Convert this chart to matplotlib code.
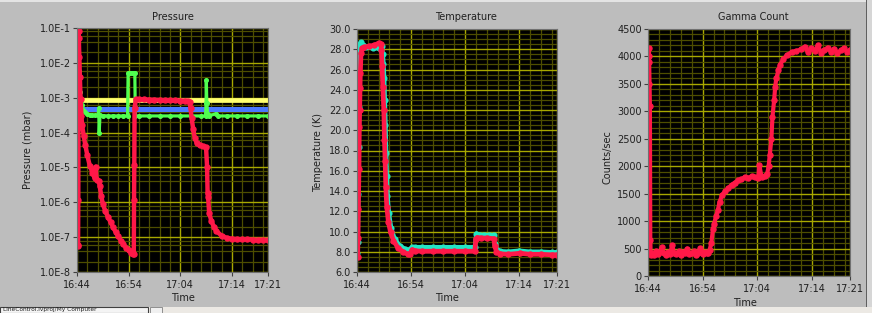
import matplotlib
matplotlib.use("Agg")
import matplotlib.pyplot as plt
from matplotlib.ticker import FixedLocator, NullFormatter
from matplotlib.patches import Rectangle

# ---------------- data (minutes after 16:44) ----------------
time_ticks = [0, 10, 20, 30, 37]
time_labels = ["16:44", "16:54", "17:04", "17:14", "17:21"]

# Pressure (mbar)
p_red_t = [0.15, 0.2, 0.25, 0.3, 0.35, 0.45, 0.55, 0.7, 0.85, 1.0, 1.3, 1.6, 2.0, 2.5,
           3.0, 3.4, 3.6, 3.8, 4.2, 4.4, 4.7, 5.0, 5.5, 6.0, 6.5, 7.0, 7.5, 8.0, 8.5,
           9.0, 9.5, 10.0, 10.5, 10.9, 11.0, 11.05, 11.1, 11.15, 11.4, 12.0, 13.0,
           14.0, 15.0, 16.0, 17.0, 18.0, 19.0, 20.0, 21.0, 21.5, 21.8, 22.0, 22.2,
           22.5, 22.8, 23.2, 23.8, 24.5, 25.0, 25.2, 25.3, 25.4, 25.6, 26.0, 26.5,
           27.0, 28.0, 29.0, 30.0, 31.0, 32.0, 33.0, 34.0, 35.0, 36.0, 37.0]
p_red_v = [5.5e-8, 6e-8, 1.2e-6, 8e-2, 5e-2, 1.5e-2, 4e-3, 9e-4, 3e-4, 1.6e-4, 8e-5,
           4.5e-5, 2.2e-5, 1.1e-5, 7e-6, 5e-6, 1.05e-5, 4.5e-6, 4e-6, 3e-6, 1.5e-6,
           9e-7, 5.5e-7, 3.8e-7, 2.7e-7, 1.9e-7, 1.4e-7, 1.05e-7, 8e-8, 6.2e-8, 5e-8,
           4.2e-8, 3.6e-8, 3.3e-8, 3.2e-8, 1.2e-6, 1.2e-5, 5e-4, 9e-4, 9e-4, 8.9e-4,
           8.8e-4, 8.7e-4, 8.6e-4, 8.5e-4, 8.5e-4, 8.4e-4, 8.3e-4, 8.2e-4, 8.0e-4,
           7.5e-4, 5e-4, 2.6e-4, 1.3e-4, 7e-5, 5e-5, 4.3e-5, 4e-5, 3.8e-5, 1e-5,
           1.8e-6, 1.4e-6, 5e-7, 3e-7, 2e-7, 1.5e-7, 1.1e-7, 9.5e-8, 9e-8, 8.8e-8,
           8.6e-8, 8.7e-8, 8.5e-8, 8.3e-8, 8.4e-8, 8.2e-8]

p_green_t = [0.0, 0.1, 0.2, 0.3, 0.4, 0.5, 0.7, 0.9, 1.2, 1.6, 2.0, 2.5, 3.0, 3.5, 4.1,
             4.2, 4.3, 4.45, 5.0, 6.0, 7.0, 8.0, 9.0, 9.8, 9.9, 10.2, 10.6, 11.0,
             11.2, 11.3, 12.0, 14.0, 16.0, 18.0, 20.0, 22.0, 24.0, 24.9, 25.0, 25.05,
             25.15, 25.3, 25.5, 27.0, 27.3, 29.0, 31.0, 33.0, 35.0, 37.0]
p_green_v = [5e-4, 4e-2, 1.5e-2, 6e-3, 2e-3, 1.5e-3, 8e-4, 6e-4, 4.5e-4, 3.8e-4,
             3.4e-4, 3.2e-4, 3.1e-4, 3.1e-4, 3.1e-4, 5e-4, 1e-4, 3.1e-4, 3.05e-4,
             3.0e-4, 3.0e-4, 3.0e-4, 3.0e-4, 3.0e-4, 5e-3, 5.2e-3, 5.2e-3, 5.1e-3,
             5e-3, 3e-4, 3.0e-4, 3.0e-4, 3.0e-4, 3.0e-4, 3.0e-4, 3.0e-4, 3.0e-4,
             3e-4, 7e-4, 3.2e-3, 7e-4, 3.5e-4, 3e-4, 3.5e-4, 3e-4, 3.0e-4, 3.0e-4,
             3.0e-4, 3.0e-4, 3.0e-4]

p_yellow_t = [0, 5, 10, 15, 20, 25, 30, 37]
p_yellow_v = [8.4e-4, 8.4e-4, 8.4e-4, 8.4e-4, 8.4e-4, 8.4e-4, 8.4e-4, 8.4e-4]
p_blue_t = [0, 5, 10, 15, 20, 25, 30, 37]
p_blue_v = [4.8e-4, 4.8e-4, 4.8e-4, 4.8e-4, 4.8e-4, 4.8e-4, 4.8e-4, 4.8e-4]

pressure_ticks = [1e-8, 1e-7, 1e-6, 1e-5, 1e-4, 1e-3, 1e-2, 1e-1]
pressure_labels = ["1.0E-8", "1.0E-7", "1.0E-6", "1.0E-5", "1.0E-4", "1.0E-3",
                   "1.0E-2", "1.0E-1"]

# Temperature (K)
t_red_t = [0.12, 0.19, 0.25, 0.37, 0.43, 0.5, 0.56, 0.62, 0.74, 0.93, 1.36, 2.3, 3.2,
           4.0, 4.46, 4.52, 4.65, 4.77, 4.96, 5.08, 5.2, 5.33, 5.51, 5.82, 6.2, 6.75,
           7.56, 8.49, 9.42, 9.85, 10.2, 10.66, 12.0, 14.0, 16.0, 18.0, 20.0, 21.8,
           22.0, 22.2, 23.0, 24.0, 25.3, 25.5, 25.8, 26.5, 28.0, 30.2, 32.0, 34.0,
           36.0, 37.0]
t_red_v = [7.5, 9.4, 12.2, 16.2, 20.3, 22.0, 24.2, 25.7, 27.6, 28.1, 28.2, 28.3, 28.4,
           28.6, 28.5, 27.9, 26.3, 24.3, 22.0, 19.0, 17.0, 14.4, 12.4, 10.9, 9.95,
           9.1, 8.4, 8.0, 7.75, 7.8, 8.2, 8.1, 8.05, 8.05, 8.05, 8.05, 8.05, 8.05,
           9.3, 9.4, 9.35, 9.35, 9.3, 8.6, 8.0, 7.8, 7.75, 7.85, 7.75, 7.75, 7.7, 7.7]

t_cyan_t = [0.06, 0.12, 0.25, 0.31, 0.37, 0.43, 0.56, 0.74, 1.05, 1.67, 2.9, 4.0, 4.58,
            4.77, 4.9, 5.02, 5.14, 5.27, 5.39, 5.51, 5.64, 5.89, 6.32, 6.94, 7.87,
            8.8, 9.6, 9.9, 10.2, 10.66, 12.0, 14.0, 16.0, 18.0, 20.0, 21.8, 22.1,
            22.5, 23.5, 24.5, 25.3, 25.6, 25.9, 26.5, 28.0, 30.0, 32.0, 34.0, 36.0,
            37.0]
t_cyan_v = [7.9, 9.0, 13.7, 18.3, 22.3, 26.5, 28.5, 28.7, 28.4, 28.2, 28.1, 28.1, 28.3,
            27.5, 26.5, 25.2, 23.0, 20.5, 17.8, 15.5, 13.5, 11.8, 10.3, 9.3, 8.6,
            8.3, 8.15, 8.3, 8.45, 8.45, 8.45, 8.45, 8.45, 8.45, 8.45, 8.45, 9.8, 9.7,
            9.65, 9.65, 9.65, 8.8, 8.2, 8.05, 8.0, 8.1, 8.0, 8.0, 7.95, 7.95]

temp_ticks = [6, 8, 10, 12, 14, 16, 18, 20, 22, 24, 26, 28, 30]

# Gamma count (counts/sec)
g_t = [0.1, 0.12, 0.15, 0.2, 0.35, 0.42, 0.5, 0.8, 1.1, 1.5, 1.9, 2.2, 2.5, 2.9, 3.3,
       3.7, 4.1, 4.4, 4.8, 5.2, 5.6, 6.0, 6.4, 6.8, 7.2, 7.6, 8.0, 8.4, 8.8, 9.2, 9.6,
       10.0, 10.4, 10.8, 11.0, 11.3, 11.6, 11.9, 12.1, 12.5, 12.8, 13.1, 13.6, 14.1,
       14.7, 15.3, 15.9, 16.5, 17.1, 17.7, 18.3, 19.0, 19.6, 20.2, 20.4, 20.8, 21.4,
       21.8, 22.1, 22.3, 22.6, 22.8, 23.1, 23.3, 23.5, 23.9, 24.2, 24.8, 25.4, 26.3,
       27.2, 28.1, 28.7, 29.3, 29.9, 30.5, 31.1, 31.7, 32.3, 32.9, 33.5, 34.1, 34.7,
       35.3, 35.9, 36.5, 37.0]
g_v = [3500, 3900, 4150, 4000, 3100, 650, 380, 420, 390, 450, 400, 430, 520, 410, 390,
       440, 400, 565, 420, 400, 450, 390, 430, 420, 500, 400, 410, 450, 390, 420, 510,
       400, 430, 420, 420, 480, 600, 850, 950, 1100, 1200, 1350, 1480, 1540, 1600,
       1660, 1700, 1740, 1760, 1800, 1780, 1820, 1800, 1790, 2020, 1800, 1830, 1850,
       2000, 2200, 2500, 2900, 3200, 3450, 3600, 3750, 3850, 3950, 4020, 4080, 4100,
       4130, 4180, 4080, 4150, 4100, 4200, 4070, 4120, 4160, 4090, 4140, 4060, 4110,
       4150, 4080, 4120]

gamma_ticks = [0, 500, 1000, 1500, 2000, 2500, 3000, 3500, 4000, 4500]

# ---------------- styling ----------------
W, H = 872, 313
BG = "#bdbdbd"
MAJ = "#a8a800"
MINC = "#4e4e00"
RED = "#ff1848"
GREEN = "#50ff50"
YELLOW = "#ffff70"
BLUE = "#4a78ff"
CYAN = "#22e6c4"
FONT = "DejaVu Sans"
FS = 7

plt.rcParams["font.family"] = FONT

fig = plt.figure(figsize=(W / 100, H / 100), dpi=100, facecolor=BG)


def add_axes(left, right, top, bottom):
    return fig.add_axes([left / W, 1 - bottom / H, (right - left) / W, (bottom - top) / H])


def style(ax, ylim, yticks, ylabels, yminor):
    ax.set_facecolor("black")
    ax.set_xlim(0, 37)
    ax.set_ylim(*ylim)
    ax.xaxis.set_major_locator(FixedLocator(time_ticks))
    ax.set_xticklabels(time_labels)
    ax.xaxis.set_minor_locator(FixedLocator([m for m in range(2, 37, 2) if m not in time_ticks]))
    ax.yaxis.set_major_locator(FixedLocator(yticks))
    ax.set_yticklabels(ylabels)
    ax.yaxis.set_minor_locator(FixedLocator(yminor))
    ax.yaxis.set_minor_formatter(NullFormatter())
    ax.grid(which="major", color=MAJ, lw=1.0)
    ax.grid(which="minor", color=MINC, lw=0.9)
    ax.set_axisbelow(True)
    ax.tick_params(which="major", axis="both", length=3, width=0.8, color="#404040",
                   labelsize=FS, labelcolor="#202020")
    ax.tick_params(which="major", axis="y", pad=1.5)
    ax.tick_params(which="major", axis="x", pad=3)
    ax.tick_params(which="minor", length=0)
    for s in ax.spines.values():
        s.set_color("#707070")
        s.set_linewidth(0.8)


# Pressure
ax1 = add_axes(77, 268, 28, 272)
ax1.set_yscale("log")
pminor = [m * 10.0 ** e for e in range(-8, -1) for m in (2, 4, 6, 8)]
style(ax1, (1e-8, 1e-1), pressure_ticks, pressure_labels, pminor)
ax1.plot(p_yellow_t, p_yellow_v, color=YELLOW, lw=3.4, solid_capstyle="butt")
ax1.plot(p_blue_t, p_blue_v, color=BLUE, lw=3.6, solid_capstyle="butt")
ax1.plot(p_green_t, p_green_v, color=GREEN, lw=2.3, marker="o", ms=2.6, mec=GREEN)
ax1.plot(p_red_t, p_red_v, color=RED, lw=3.2, marker="o", ms=3.6, mec=RED)

# Temperature
ax2 = add_axes(357, 557, 29, 272)
tminor = [v / 2 for v in range(12, 61) if v % 4 != 0]
style(ax2, (6, 30), temp_ticks, ["%.1f" % v for v in temp_ticks], tminor)
ax2.plot(t_cyan_t, t_cyan_v, color=CYAN, lw=3.2, marker="o", ms=3.4, mec=CYAN)
ax2.plot(t_red_t, t_red_v, color=RED, lw=3.4, marker="o", ms=3.6, mec=RED)

# Gamma
ax3 = add_axes(648, 850, 29, 276)
gminor = [v for v in range(100, 4500, 100) if v % 500 != 0]
style(ax3, (0, 4500), gamma_ticks, [str(v) for v in gamma_ticks], gminor)
ax3.plot(g_t, g_v, color=RED, lw=3.0, marker="o", ms=3.6, mec=RED)


def ftext(x, y, s, **kw):
    fig.text(x / W, 1 - y / H, s, ha="center", va="center", fontsize=FS,
             color="#202020", **kw)


ftext(173, 17, "Pressure")
ftext(466, 17, "Temperature")
ftext(753, 17, "Gamma Count")
ftext(28, 150, "Pressure (mbar)", rotation=90)
ftext(318, 152, "Temperature (K)", rotation=90)
ftext(607, 157, "Counts/sec", rotation=90)
ftext(183, 298, "Time")
ftext(447, 298, "Time")
ftext(745, 303, "Time")

# window chrome
fig.add_artist(Rectangle((0, 1 - 2 / H), 1, 2 / H, transform=fig.transFigure,
                         facecolor="#e4e4e4", edgecolor="none"))
fig.add_artist(Rectangle((866 / W, 0), 1 / W, 1, transform=fig.transFigure,
                         facecolor="#606060", edgecolor="none"))
fig.add_artist(Rectangle((867 / W, 0), 5 / W, 1, transform=fig.transFigure,
                         facecolor="#d6d6d6", edgecolor="none"))
fig.add_artist(Rectangle((0, 0), 1, 6 / H, transform=fig.transFigure,
                         facecolor="#ece9e4", edgecolor="none"))
fig.add_artist(Rectangle((0, 0), 148 / W, 6 / H, transform=fig.transFigure,
                         facecolor="#f4f4f4", edgecolor="#404040", lw=0.8))
fig.add_artist(Rectangle((150 / W, 0), 12 / W, 6 / H, transform=fig.transFigure,
                         facecolor="#f0f0f0", edgecolor="#808080", lw=0.6))
fig.text(3 / W, 0.5 / H, "LineControl.lvproj/My Computer", fontsize=4.2,
         color="#202020", ha="left", va="bottom")

fig.savefig("out.png", dpi=100, facecolor=BG)
